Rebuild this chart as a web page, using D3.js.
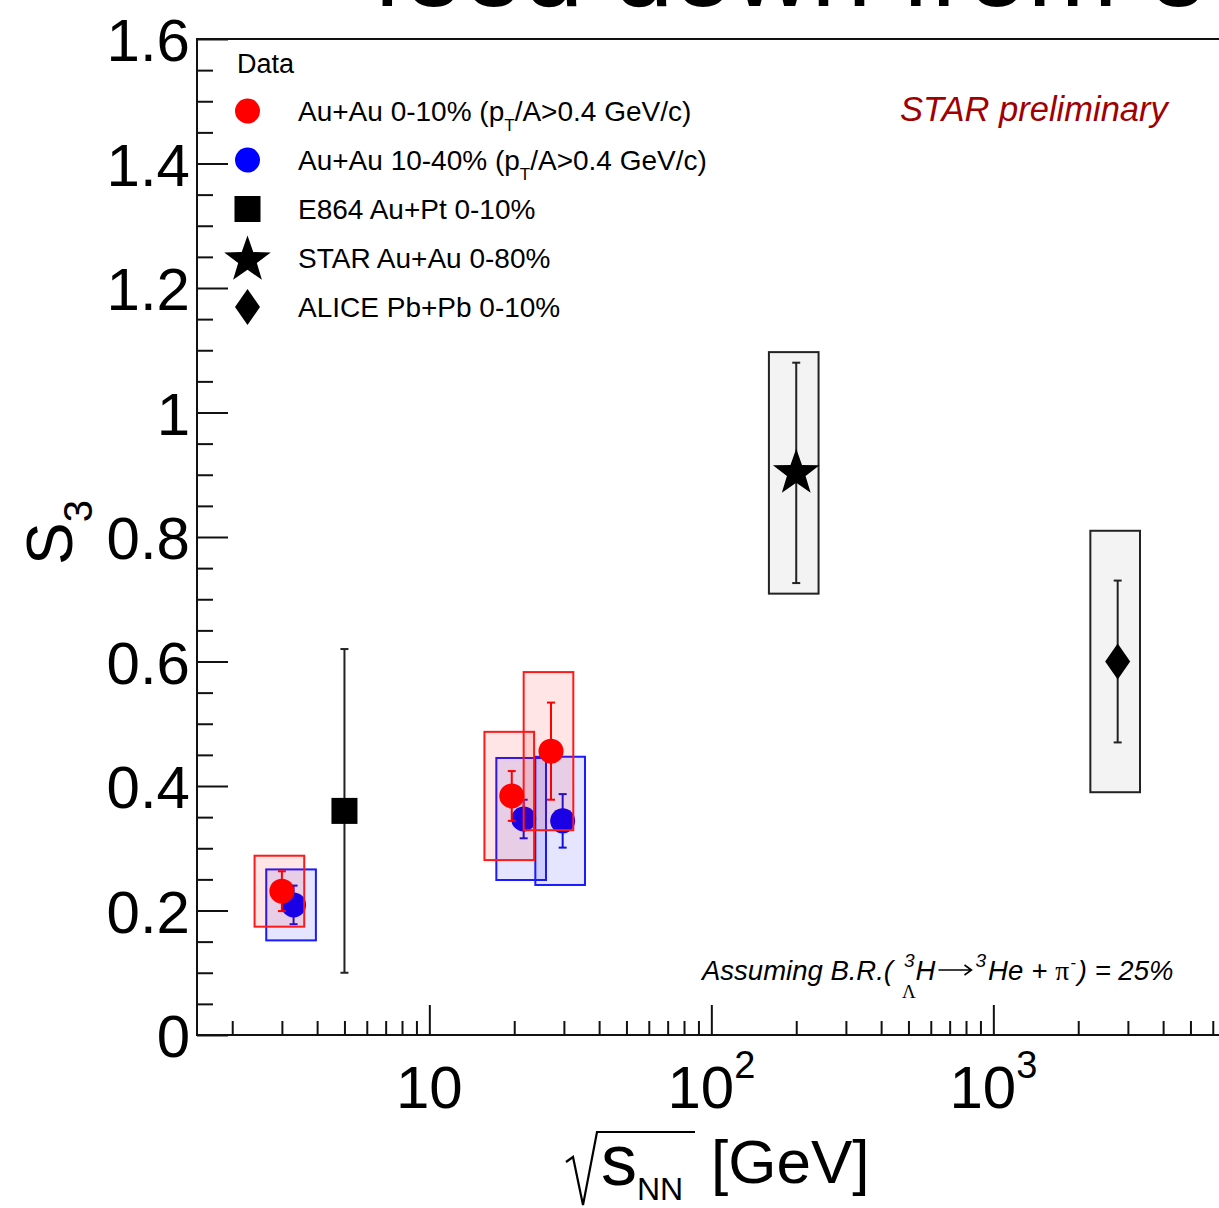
<!DOCTYPE html>
<html>
<head>
<meta charset="utf-8">
<script src="https://cdn.jsdelivr.net/npm/d3@7"></script>
<style>
  body { margin: 0; background: #fff; }
  svg { display: block; font-family: "Liberation Sans", Arial, Helvetica, sans-serif; }
</style>
</head>
<body>
<div id="chart"></div>
<script>
// Au+Au 0-10%
var redEnergy = [3.0, 19.6, 27.0];
var redS3 = [0.231, 0.384, 0.456];
var redStat = [0.032, 0.040, 0.078];
var redSys = [0.057, 0.103, 0.127];
// Au+Au 10-40% (shifted x1.1 for visibility)
var blueEnergy = [3.3, 21.6, 29.7];
var blueS3 = [0.209, 0.347, 0.344];
var blueStat = [0.031, 0.031, 0.043];
var blueSys = [0.057, 0.098, 0.103];
// E864 Au+Pt 0-10%
var e864Energy = [5.0];
var e864S3 = [0.36];
var e864Stat = [0.26];
// STAR Au+Au 0-80%
var starEnergy = [200];
var starS3 = [0.903];
var starStat = [0.177];
var starSys = [0.194];
// ALICE Pb+Pb 0-10%
var aliceEnergy = [2760];
var aliceS3 = [0.60];
var aliceStat = [0.13];
var aliceSys = [0.21];

var yTicks = [0, 0.2, 0.4, 0.6, 0.8, 1, 1.2, 1.4, 1.6];
var xTicks = [10, 100, 1000];
var xTickLabels = [["10", ""], ["10", "2"], ["10", "3"]];

var W = 1219, H = 1208;
var frame = { left: 197, top: 39, bottom: 1035 };
var boxFrac = 0.2;

var svg = d3.select("#chart").append("svg")
    .attr("width", W)
    .attr("height", H);

var x = d3.scaleLog()
    .domain([1.5, 10000])
    .range([frame.left, frame.left + 282 * 4 - 282 * Math.log10(1.5)]);

var y = d3.scaleLinear()
    .domain([0, 1.6])
    .range([frame.bottom, frame.top]);

// title, cut off at the top of the picture
svg.append("text")
    .attr("x", 373)
    .attr("y", 6)
    .style("font-size", "108px")
    .text("feed down from e");

// frame
svg.append("rect")
    .attr("x", frame.left)
    .attr("y", frame.top)
    .attr("width", x(10000) - frame.left)
    .attr("height", frame.bottom - frame.top)
    .attr("fill", "none")
    .attr("stroke", "#111")
    .attr("stroke-width", 2);

// y axis
var yMinor = d3.range(0, 1.6001, 0.05).filter(function(v) {
    return Math.abs(v * 5 - Math.round(v * 5)) > 1e-6;
});
svg.append("g")
    .attr("transform", "translate(" + frame.left + ",0)")
    .call(d3.axisLeft(y).tickValues(yMinor).tickSizeInner(-16).tickSizeOuter(0).tickFormat(""))
    .call(function(g) { g.select(".domain").remove(); })
    .selectAll("line").attr("stroke", "#111").attr("stroke-width", 2);

var yAx = svg.append("g")
    .attr("transform", "translate(" + frame.left + ",0)")
    .call(d3.axisLeft(y).tickValues(yTicks).tickSizeInner(-31).tickSizeOuter(0).tickPadding(7)
        .tickFormat(function(d) { return String(+d.toFixed(1)); }));
yAx.select(".domain").remove();
yAx.selectAll("line").attr("stroke", "#111").attr("stroke-width", 2);
yAx.selectAll("text")
    .attr("fill", "#000")
    .attr("dy", "0.36em")
    .style("font-size", "60px")
    .style("font-family", "'Liberation Sans', Arial, sans-serif");

// x axis
var xMinor = [];
[1, 10, 100, 1000].forEach(function(dec) {
    for (var k = 2; k <= 9; k++) {
        var v = k * dec;
        if (v > 1.5 && v < 10000) xMinor.push(v);
    }
});
svg.append("g")
    .attr("transform", "translate(0," + frame.bottom + ")")
    .call(d3.axisBottom(x).tickValues(xMinor).tickSizeInner(-14).tickSizeOuter(0).tickFormat(""))
    .call(function(g) { g.select(".domain").remove(); })
    .selectAll("line").attr("stroke", "#111").attr("stroke-width", 2);

var xAx = svg.append("g")
    .attr("transform", "translate(0," + frame.bottom + ")")
    .call(d3.axisBottom(x).tickValues(xTicks).tickSizeInner(-30).tickSizeOuter(0).tickFormat(""));
xAx.select(".domain").remove();
xAx.selectAll("line").attr("stroke", "#111").attr("stroke-width", 2);

xTicks.forEach(function(v, i) {
    var t = svg.append("text")
        .attr("x", x(v))
        .attr("y", 1108)
        .attr("text-anchor", "middle")
        .style("font-size", "60px")
        .text(xTickLabels[i][0]);
    if (xTickLabels[i][1]) {
        t.append("tspan")
            .attr("dy", -30)
            .style("font-size", "38px")
            .text(xTickLabels[i][1]);
    }
});

// x title: sqrt(s_NN) [GeV]
svg.append("path")
    .attr("d", "M566,1162 L573,1157 L583,1205 L597,1132 L695,1132")
    .attr("fill", "none")
    .attr("stroke", "#000")
    .attr("stroke-width", 2.2);
var xt = svg.append("text")
    .attr("x", 601)
    .attr("y", 1185)
    .style("font-size", "72px")
    .text("s");
xt.append("tspan").attr("dy", 15).style("font-size", "32px").text("NN");
svg.append("text")
    .attr("x", 711)
    .attr("y", 1183)
    .style("font-size", "62px")
    .text("[GeV]");

// y title: S_3
var yt = svg.append("text")
    .attr("transform", "translate(72,565) rotate(-90)")
    .style("font-size", "64px")
    .text("S");
yt.append("tspan").attr("dy", 20).style("font-size", "40px").text("3");

// helpers
function sysBox(g, ex, vy, sys, fill, stroke) {
    g.selectAll(null)
        .data(ex.map(function(e, i) { return { e: e, v: vy[i], s: sys[i] }; }))
        .enter().append("rect")
        .attr("x", function(d) { return x(d.e * (1 - boxFrac)); })
        .attr("width", function(d) { return x(d.e * (1 + boxFrac)) - x(d.e * (1 - boxFrac)); })
        .attr("y", function(d) { return y(d.v + d.s); })
        .attr("height", function(d) { return y(d.v - d.s) - y(d.v + d.s); })
        .attr("fill", fill)
        .attr("stroke", stroke)
        .attr("stroke-width", 2);
}

function errBar(g, ex, vy, stat, color, w) {
    var data = ex.map(function(e, i) { return { e: e, v: vy[i], s: stat[i] }; });
    var eb = g.selectAll(null).data(data).enter().append("g").attr("stroke", color).attr("stroke-width", w);
    eb.append("line")
        .attr("x1", function(d) { return x(d.e); }).attr("x2", function(d) { return x(d.e); })
        .attr("y1", function(d) { return y(d.v + d.s); }).attr("y2", function(d) { return y(d.v - d.s); });
    [1, -1].forEach(function(sgn) {
        eb.append("line")
            .attr("x1", function(d) { return x(d.e) - 4; }).attr("x2", function(d) { return x(d.e) + 4; })
            .attr("y1", function(d) { return y(d.v + sgn * d.s); }).attr("y2", function(d) { return y(d.v + sgn * d.s); });
    });
}

function starPath(R) {
    var pts = [];
    for (var i = 0; i < 10; i++) {
        var r = i % 2 === 0 ? R : R * 0.4;
        var a = -Math.PI / 2 + i * Math.PI / 5;
        pts.push([r * Math.cos(a), r * Math.sin(a)]);
    }
    return "M" + pts.map(function(p) { return p[0].toFixed(2) + "," + p[1].toFixed(2); }).join("L") + "Z";
}
var diamondPath = "M0,-18 L12.5,0 L0,18 L-12.5,0 Z";

var plot = svg.append("g");

// STAR and ALICE boxes
sysBox(plot, starEnergy, starS3, starSys, "#f3f3f3", "#222");
sysBox(plot, aliceEnergy, aliceS3, aliceSys, "#f3f3f3", "#222");
errBar(plot, starEnergy, starS3, starStat, "#222", 2);
errBar(plot, aliceEnergy, aliceS3, aliceStat, "#222", 2);
errBar(plot, e864Energy, e864S3, e864Stat, "#222", 2);

plot.selectAll(null).data(starEnergy).enter().append("path")
    .attr("d", starPath(24.5))
    .attr("transform", function(d, i) { return "translate(" + x(d) + "," + y(starS3[i]) + ")"; })
    .attr("fill", "#000");
plot.selectAll(null).data(aliceEnergy).enter().append("path")
    .attr("d", diamondPath)
    .attr("transform", function(d, i) { return "translate(" + x(d) + "," + y(aliceS3[i]) + ")"; })
    .attr("fill", "#000");
plot.selectAll(null).data(e864Energy).enter().append("rect")
    .attr("x", function(d) { return x(d) - 13; })
    .attr("y", function(d, i) { return y(e864S3[i]) - 13; })
    .attr("width", 26).attr("height", 26)
    .attr("fill", "#000");

// blue: 10-40%
sysBox(plot, blueEnergy, blueS3, blueSys, "rgba(0,0,255,0.1)", "#1a1aff");
errBar(plot, blueEnergy, blueS3, blueStat, "#1010e0", 2);
plot.selectAll(null).data(blueEnergy).enter().append("circle")
    .attr("cx", function(d) { return x(d); })
    .attr("cy", function(d, i) { return y(blueS3[i]); })
    .attr("r", 12.5)
    .attr("fill", "#0000ff");

// red: 0-10%
sysBox(plot, redEnergy, redS3, redSys, "rgba(255,0,0,0.1)", "#ff1a1a");
errBar(plot, redEnergy, redS3, redStat, "#ff0000", 2);
plot.selectAll(null).data(redEnergy).enter().append("circle")
    .attr("cx", function(d) { return x(d); })
    .attr("cy", function(d, i) { return y(redS3[i]); })
    .attr("r", 12.5)
    .attr("fill", "#ff0000");

// legend
var legend = svg.append("g").style("font-size", "28px");
legend.append("text").attr("x", 237).attr("y", 73).style("font-size", "27px").text("Data");
var legRows = [
    { kind: "circle", color: "#ff0000", label: ["Au+Au 0-10% (p", "T", "/A>0.4 GeV/c)"] },
    { kind: "circle", color: "#0000ff", label: ["Au+Au 10-40% (p", "T", "/A>0.4 GeV/c)"] },
    { kind: "square", color: "#000", label: ["E864 Au+Pt 0-10%"] },
    { kind: "star", color: "#000", label: ["STAR Au+Au 0-80%"] },
    { kind: "diamond", color: "#000", label: ["ALICE Pb+Pb 0-10%"] }
];
legRows.forEach(function(r, i) {
    var cy = 111 + i * 49, cx = 247.5;
    if (r.kind === "circle") {
        legend.append("circle").attr("cx", cx).attr("cy", cy).attr("r", 12.5).attr("fill", r.color);
    } else if (r.kind === "square") {
        legend.append("rect").attr("x", cx - 13).attr("y", cy - 13).attr("width", 26).attr("height", 26).attr("fill", r.color);
    } else if (r.kind === "star") {
        legend.append("path").attr("d", starPath(24.5)).attr("transform", "translate(" + cx + "," + (cy + 2) + ")").attr("fill", r.color);
    } else {
        legend.append("path").attr("d", diamondPath).attr("transform", "translate(" + cx + "," + cy + ")").attr("fill", r.color);
    }
    var t = legend.append("text").attr("x", 298).attr("y", cy + 10).text(r.label[0]);
    if (r.label.length > 1) {
        t.append("tspan").attr("dy", 10).style("font-size", "17px").text(r.label[1]);
        t.append("tspan").attr("dy", -10).text(r.label[2]);
    }
});

// STAR preliminary
svg.append("text")
    .attr("x", 900)
    .attr("y", 121)
    .attr("fill", "#a00000")
    .style("font-size", "34.5px")
    .style("font-style", "italic")
    .text("STAR preliminary");

// branching ratio note, laid out piece by piece
var note = svg.append("g").style("font-size", "27.5px").style("font-style", "italic");
var serif = "'Liberation Serif', 'Times New Roman', serif";
var nx = 702, ny = 980;
function piece(txt, opts) {
    opts = opts || {};
    var t = note.append("text").attr("x", nx + (opts.dx || 0)).attr("y", ny + (opts.dy || 0)).text(txt);
    if (opts.size) t.style("font-size", opts.size + "px");
    if (opts.serif) t.style("font-family", serif).style("font-style", "normal");
    var w = t.node().getComputedTextLength();
    if (!opts.noAdvance) nx += w + (opts.gap || 0);
    return w;
}
piece("Assuming B.R.(", { gap: 9 });
piece("Λ", { size: 19, dy: 18, serif: true, noAdvance: true });
piece("3", { size: 19, dy: -13, dx: 2, gap: 3 });
piece("H", { gap: 3 });
// long arrow
note.append("path")
    .attr("d", "M" + nx + "," + (ny - 10) + " h33 M" + (nx + 26) + "," + (ny - 15) + " l7,5 l-7,5")
    .attr("fill", "none").attr("stroke", "#000").attr("stroke-width", 1.6);
nx += 37;
piece("3", { size: 19, dy: -13, gap: 2 });
piece("He", { gap: 8 });
piece("+", { gap: 8 });
piece("π", { serif: true, gap: 1 });
piece("-", { size: 17, dy: -12, gap: 2 });
piece(") = 25%");
</script>
</body>
</html>
